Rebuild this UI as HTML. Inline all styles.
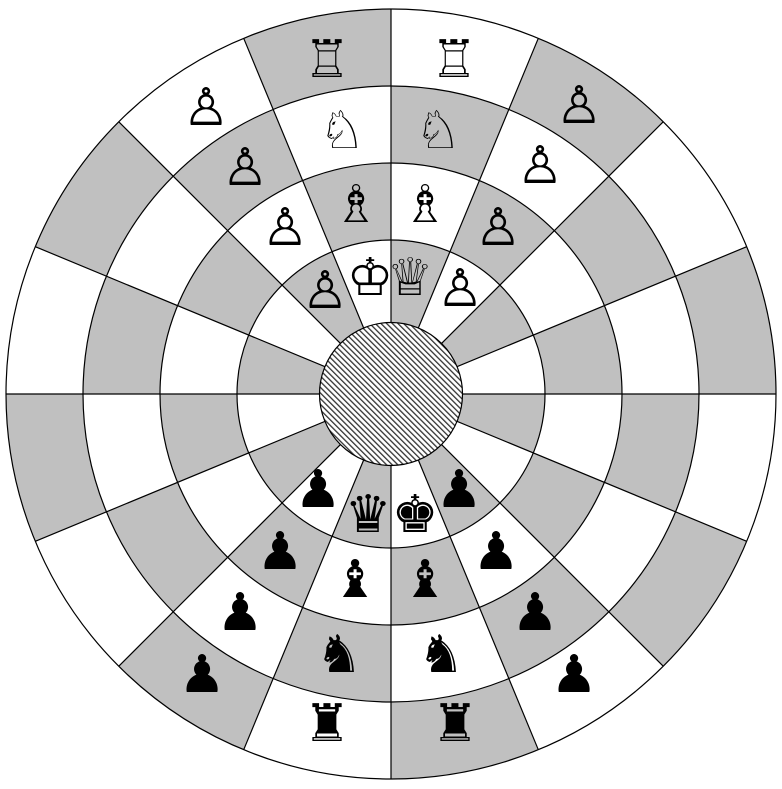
<!DOCTYPE html>
<html><head><meta charset="utf-8"><style>
html,body{margin:0;padding:0;background:#fff;}
svg{display:block;}
text{font-family:"DejaVu Sans",sans-serif;font-size:52px;text-anchor:middle;dominant-baseline:central;}
</style></head><body>
<svg width="782" height="789" viewBox="0 0 782 789" xmlns="http://www.w3.org/2000/svg">
<defs>
<pattern id="h" width="4" height="4" patternUnits="userSpaceOnUse" patternTransform="rotate(-45)">
<rect width="4" height="4" fill="#fff"/>
<rect width="1.3" height="4" fill="#333"/>
</pattern>
</defs>
<rect width="782" height="789" fill="#fff"/>
<g transform="translate(391,394)" fill="none" stroke="#c0c0c0">
<circle r="346.5" stroke-width="77" stroke-dasharray="136.07 136.07" stroke-dashoffset="136.07"/>
<circle r="269.5" stroke-width="77" stroke-dasharray="105.83 105.83" stroke-dashoffset="0"/>
<circle r="192.5" stroke-width="77" stroke-dasharray="75.6 75.6" stroke-dashoffset="75.6"/>
<circle r="112.5" stroke-width="83" stroke-dasharray="44.18 44.18" stroke-dashoffset="0"/>
</g>
<g stroke="#000" stroke-width="1.2" fill="none">
<line x1="6" y1="394" x2="776" y2="394"/>
<line x1="746.7" y1="246.7" x2="35.3" y2="541.3"/>
<line x1="663.2" y1="121.8" x2="118.8" y2="666.2"/>
<line x1="538.3" y1="38.3" x2="243.7" y2="749.7"/>
<line x1="391" y1="9" x2="391" y2="779"/>
<line x1="243.7" y1="38.3" x2="538.3" y2="749.7"/>
<line x1="118.8" y1="121.8" x2="663.2" y2="666.2"/>
<line x1="35.3" y1="246.7" x2="746.7" y2="541.3"/>
<circle cx="391" cy="394" r="385"/>
<circle cx="391" cy="394" r="308"/>
<circle cx="391" cy="394" r="231"/>
<circle cx="391" cy="394" r="154"/>
<circle cx="391" cy="394" r="71.5" fill="url(#h)"/>
</g>
<g fill="#000">
<text x="454" y="60">♖</text>
<text x="438" y="131">♘</text>
<text x="425" y="205">♗</text>
<text x="410" y="278">♕</text>
<text x="327" y="60">♖</text>
<text x="342" y="131">♘</text>
<text x="356" y="205">♗</text>
<text x="370" y="278">♔</text>
<text x="579" y="106">♙</text>
<text x="540" y="166">♙</text>
<text x="498" y="228">♙</text>
<text x="460" y="289">♙</text>
<text x="206" y="108">♙</text>
<text x="245" y="168">♙</text>
<text x="285" y="228">♙</text>
<text x="325" y="291">♙</text>
<text x="455" y="724">♜</text>
<text x="441" y="655">♞</text>
<text x="425" y="580">♝</text>
<text x="415" y="515">♚</text>
<text x="327" y="724">♜</text>
<text x="339" y="655">♞</text>
<text x="355" y="580">♝</text>
<text x="368" y="515">♛</text>
<text x="574" y="675">♟</text>
<text x="535" y="613">♟</text>
<text x="496" y="552">♟</text>
<text x="459" y="490">♟</text>
<text x="202" y="675">♟</text>
<text x="240" y="613">♟</text>
<text x="280" y="552">♟</text>
<text x="318" y="490">♟</text>
</g>
</svg>
</body></html>
